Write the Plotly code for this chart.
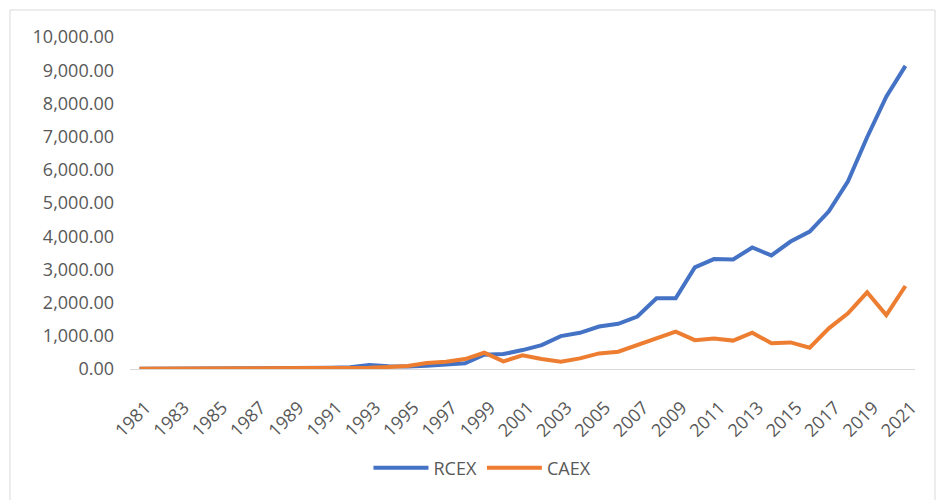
import plotly.graph_objects as go

years = [str(y) for y in range(1981, 2022)]
rcex = [5, 5, 6, 7, 8, 9, 10, 12, 15, 25, 35, 50, 120, 80, 75, 100, 130, 170, 430, 450,
        570, 720, 990, 1090, 1280, 1360, 1580, 2130, 2130, 3060, 3310, 3300, 3660, 3420,
        3840, 4140, 4750, 5650, 6980, 8200, 9130]
caex = [10, 10, 10, 11, 11, 12, 12, 13, 15, 25, 30, 35, 40, 60, 90, 180, 220, 300, 490, 230,
        410, 300, 220, 320, 470, 520, 720, 945, 1125, 870, 915, 855, 1095, 775, 800, 640,
        1225, 1675, 2310, 1625, 2500]
tick_years = years[::2]

FONT = "Open Sans"
GRAY = "#595959"

fig = go.Figure()
fig.add_trace(go.Scatter(x=years, y=rcex, name="RCEX", mode="lines",
                         line=dict(color="#4472C4", width=4)))
fig.add_trace(go.Scatter(x=years, y=caex, name="CAEX", mode="lines",
                         line=dict(color="#ED7D31", width=4)))

fig.update_layout(
    width=936, height=500,
    margin=dict(l=130, r=21, t=37, b=131),
    paper_bgcolor="white", plot_bgcolor="white",
    font=dict(family=FONT, size=18, color=GRAY),
    showlegend=True,
    legend=dict(orientation="h", x=0.449, xanchor="center", y=-0.298, yanchor="middle",
                itemwidth=55,
                font=dict(family=FONT, size=18, color=GRAY), bgcolor="rgba(0,0,0,0)"),
    xaxis=dict(type="category", range=[-0.5, 40.5], tickmode="array",
               tickvals=tick_years, ticktext=tick_years, tickangle=-45,
               showgrid=False, showline=True, linecolor="#d9d9d9", linewidth=1,
               ticks="", zeroline=False, ticklabelstandoff=20, ticklabelshift=6,
               tickfont=dict(size=18, color=GRAY)),
    yaxis=dict(range=[0, 10000], dtick=1000, tickformat=",.2f", showgrid=False,
               showline=False, zeroline=False, ticks="", ticklabelstandoff=15,
               tickfont=dict(size=18, color=GRAY)),
    shapes=[dict(type="rect", xref="paper", yref="paper",
                 x0=(10 - 130) / 785, x1=(935 - 130) / 785,
                 y0=(369 - 520) / 332, y1=(369 - 10) / 332,
                 line=dict(color="#d9d9d9", width=1), fillcolor="rgba(0,0,0,0)",
                 layer="below")],
)

fig.write_html("out.html")
